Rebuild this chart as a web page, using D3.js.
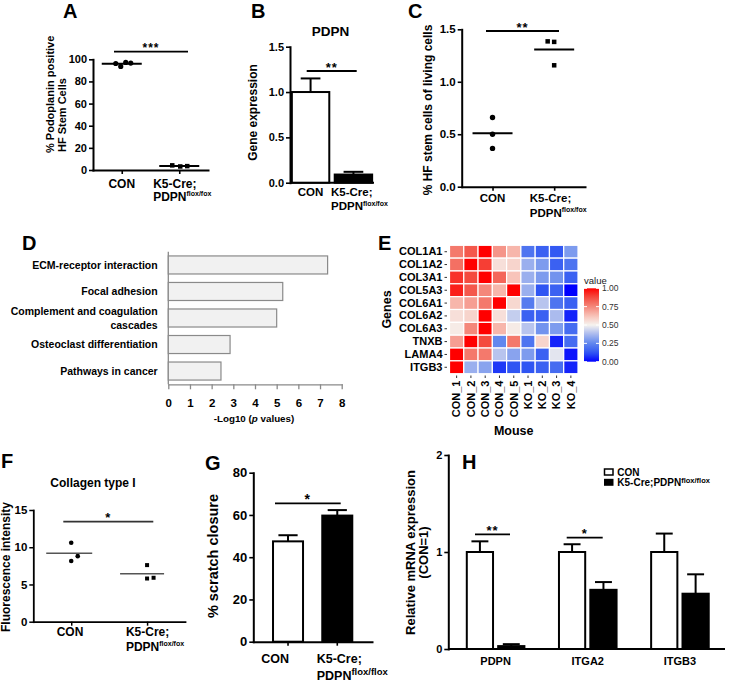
<!DOCTYPE html>
<html><head><meta charset="utf-8">
<script src="https://cdn.jsdelivr.net/npm/d3@7"></script>
<style>
body{margin:0;background:#fff}
svg{display:block}
text{font-family:"Liberation Sans",Arial,sans-serif;font-weight:bold;fill:#000}
</style>
</head><body>
<svg id="fig" width="729" height="683"></svg>
<script>
// ---------------- DATA ----------------
const groups = ["CON", "KO"];
// A
const aCon = [96.2, 93.6, 97.2, 96.6];
const aKo = [4.2, 3.2, 3.5];
const aTicks = [0, 20, 40, 60, 80, 100];
// B
const bMeans = [1.0, 0.09];
const bErrs = [0.15, 0.03];
const bTicks = [0, 0.5, 1.0, 1.5];
// C
const cCon = [0.66, 0.50, 0.365];
const cKo = [1.385, 1.38, 1.157];
const cTicks = [0, 0.5, 1.0, 1.5];
// D
const dTerms = ["ECM-receptor interaction", "Focal adhesion", "Complement and coagulation|cascades", "Osteoclast differentiation", "Pathways in cancer"];
const dValues = [7.35, 5.28, 5.0, 2.85, 2.43];
const dTicks = [0, 1, 2, 3, 4, 5, 6, 7, 8];
// E
const eGenes = ["COL1A1", "COL1A2", "COL3A1", "COL5A3", "COL6A1", "COL6A2", "COL6A3", "TNXB", "LAMA4", "ITGB3"];
const eMice = ["CON_1", "CON_2", "CON_3", "CON_4", "CON_5", "KO_1", "KO_2", "KO_3", "KO_4"];
const eValues = [
  [0.78, 0.85, 1.00, 0.72, 0.65, 0.20, 0.15, 0.13, 0.30],
  [0.80, 1.00, 0.90, 0.55, 0.58, 0.35, 0.30, 0.15, 0.20],
  [0.92, 0.88, 1.00, 0.82, 0.62, 0.35, 0.30, 0.28, 0.15],
  [0.95, 0.85, 0.75, 0.65, 1.00, 0.35, 0.12, 0.15, 0.00],
  [0.65, 0.70, 0.78, 1.00, 0.57, 0.22, 0.40, 0.20, 0.15],
  [0.55, 0.58, 1.00, 0.55, 0.42, 0.15, 0.15, 0.38, 0.05],
  [0.52, 0.75, 1.00, 0.65, 0.52, 0.40, 0.28, 0.30, 0.18],
  [0.70, 1.00, 0.88, 0.25, 0.78, 0.20, 0.58, 0.05, 0.18],
  [1.00, 0.78, 0.78, 0.40, 0.32, 0.30, 0.15, 0.47, 0.03],
  [1.00, 0.35, 0.32, 0.08, 0.12, 0.12, 0.15, 0.18, 0.05]
];
const eLegendTicks = [0, 0.25, 0.5, 0.75, 1];
const ePaletteStops = [0, 0.12, 0.25, 0.38, 0.5, 0.62, 0.75, 0.88, 1];
const ePaletteColors = ["#0000ff", "#2f55f3", "#6187ee", "#abbbee", "#f6f3ef", "#f8c4ba", "#f4877a", "#f44a3e", "#ff0000"];
// F
const fCon = [10.6, 8.15, 8.8];
const fKo = [7.6, 5.8, 5.9];
const fTicks = [0, 5, 10, 15];
// G
const gMeans = [47.5, 59.7];
const gErrs = [2.9, 2.6];
const gTicks = [0, 20, 40, 60, 80];
// H
const hGenes = ["PDPN", "ITGA2", "ITGB3"];
const hCon = [1.0, 1.0, 1.0];
const hConErr = [0.11, 0.08, 0.19];
const hKo = [0.03, 0.61, 0.57];
const hKoErr = [0.02, 0.08, 0.20];
const hTicks = [0, 1, 2];

// ---------------- HELPERS ----------------
const svg = d3.select("#fig");
svg.append("rect").attr("width", 729).attr("height", 683).attr("fill", "#fff");

function panelLetter(x, y, t) {
  svg.append("text").attr("x", x).attr("y", y).style("font-size", "20px").text(t);
}
function styleAxis(g, fs, dw, tw, col) {
  g.attr("font-size", null).attr("font-family", null);
  g.selectAll("text").style("font-size", fs + "px").style("fill", "#000");
  g.select(".domain").attr("stroke", col || "#000").attr("stroke-width", dw).attr("stroke-linecap", "square");
  g.selectAll(".tick line").attr("stroke", col || "#000").attr("stroke-width", tw);
}
function koLabel(g, cx, y, fs, sup, supFs, lineH) {
  const t1 = g.append("text").attr("y", y).style("font-size", fs + "px").text("K5-Cre;");
  const t2 = g.append("text").attr("y", y + lineH).style("font-size", fs + "px");
  t2.append("tspan").text("PDPN");
  t2.append("tspan").attr("dy", -fs * 0.38).style("font-size", supFs + "px").text(sup);
  const w = Math.max(t1.node().getComputedTextLength(), t2.node().getComputedTextLength());
  t1.attr("x", cx - w / 2); t2.attr("x", cx - w / 2);
}
function vLabel(g, x, y, fs, txt, anchor) {
  g.append("text").attr("transform", `translate(${x},${y}) rotate(-90)`)
    .attr("text-anchor", anchor || "middle").style("font-size", fs + "px").text(txt);
}
function sig(g, x1, x2, y, stars, fs, col) {
  g.append("line").attr("x1", x1).attr("x2", x2).attr("y1", y).attr("y2", y)
    .attr("stroke", col || "#000").attr("stroke-width", 1.8);
  g.append("text").attr("x", (x1 + x2) / 2).attr("y", y + 0.5).attr("text-anchor", "middle")
    .style("font-size", fs + "px").style("letter-spacing", "1px").text(stars);
}
function errUp(g, cx, yVal, yTop, capW, w) {
  g.append("line").attr("x1", cx).attr("x2", cx).attr("y1", yVal).attr("y2", yTop)
    .attr("stroke", "#000").attr("stroke-width", w || 2);
  g.append("line").attr("x1", cx - capW / 2).attr("x2", cx + capW / 2).attr("y1", yTop).attr("y2", yTop)
    .attr("stroke", "#000").attr("stroke-width", w || 2);
}
function dots(g, xs, ys, data, cx, jit, shape, size) {
  data.forEach((v, i) => {
    const px = cx + jit[i];
    if (shape === "circle") g.append("circle").attr("cx", px).attr("cy", ys(v)).attr("r", size).attr("fill", "#000");
    else g.append("rect").attr("x", px - size / 2).attr("y", ys(v) - size / 2).attr("width", size).attr("height", size).attr("fill", "#000");
  });
}
function meanLine(g, cx, half, y, w, col) {
  g.append("line").attr("x1", cx - half).attr("x2", cx + half).attr("y1", y).attr("y2", y)
    .attr("stroke", col || "#000").attr("stroke-width", w);
}

// ---------------- PANEL A ----------------
{
  const g = svg.append("g");
  panelLetter(63, 18, "A");
  const y = d3.scaleLinear().domain([0, 100]).range([170, 59.3]);
  const x = d3.scalePoint().domain(groups).range([93, 208]).padding(0.5);
  const ya = g.append("g").attr("transform", "translate(93,0)")
    .call(d3.axisLeft(y).tickValues(aTicks).tickSize(4).tickPadding(2).tickSizeOuter(0));
  styleAxis(ya, 11, 2, 1.6);
  const xa = g.append("g").attr("transform", "translate(0,170)")
    .call(d3.axisBottom(x).tickSize(4).tickFormat("").tickSizeOuter(0));
  styleAxis(xa, 11, 2, 1.6);
  dots(g, x, y, aCon, x("CON"), [-6, -1, 4, 9], "circle", 2.6);
  dots(g, x, y, aKo, x("KO"), [-7, 1, 8], "rect", 4.5);
  meanLine(g, x("CON"), 20, y(d3.mean(aCon)), 2);
  meanLine(g, x("KO"), 20, y(d3.mean(aKo)), 2);
  sig(g, 114, 188, 51.7, "***", 12);
  vLabel(g, 54, 153, 11, "% Podoplanin positive", "start");
  vLabel(g, 66, 152, 11, "HF Stem Cells", "start");
  g.append("text").attr("x", x("CON")).attr("y", 188).attr("text-anchor", "middle").style("font-size", "12px").text("CON");
  koLabel(g, x("KO") + 3, 188, 12, "flox/fox", 7, 13);
}

// ---------------- PANEL B ----------------
{
  const g = svg.append("g");
  panelLetter(251, 18, "B");
  g.append("text").attr("x", 330.5).attr("y", 35.7).attr("text-anchor", "middle").style("font-size", "13.5px").text("PDPN");
  const y = d3.scaleLinear().domain([0, 1.5]).range([182.7, 46.7]);
  const x = d3.scaleBand().domain(groups).range([290, 374]).paddingInner(0.08).paddingOuter(0.02);
  const ya = g.append("g").attr("transform", "translate(290,0)")
    .call(d3.axisLeft(y).tickValues(bTicks).tickFormat(d3.format(".1f")).tickSize(4).tickPadding(2).tickSizeOuter(0));
  styleAxis(ya, 11, 2, 1.6);
  g.append("line").attr("x1", 290).attr("x2", 374).attr("y1", 182.7).attr("y2", 182.7).attr("stroke", "#000").attr("stroke-width", 2);
  groups.forEach((k, i) => {
    const bx = x(k), bw = x.bandwidth();
    errUp(g, bx + bw / 2, y(bMeans[i]), y(bMeans[i] + bErrs[i]), bw * 0.5, 2);
    g.append("rect").attr("x", bx + 1).attr("y", y(bMeans[i])).attr("width", bw - 2).attr("height", y(0) - y(bMeans[i]))
      .attr("fill", i === 0 ? "#fff" : "#000").attr("stroke", "#000").attr("stroke-width", 2);
  });
  sig(g, 306.7, 356.7, 71, "**", 13);
  vLabel(g, 257, 112.5, 12, "Gene expression");
  g.append("text").attr("x", x("CON") + x.bandwidth() / 2).attr("y", 196).attr("text-anchor", "middle").style("font-size", "11.5px").text("CON");
  koLabel(g, x("KO") + x.bandwidth() / 2 + 6, 196, 11.5, "flox/fox", 7, 14);
}

// ---------------- PANEL C ----------------
{
  const g = svg.append("g");
  panelLetter(408, 18, "C");
  const y = d3.scaleLinear().domain([0, 1.5]).range([186.7, 29.3]);
  const x = d3.scalePoint().domain(groups).range([461.7, 585]).padding(0.5);
  const ya = g.append("g").attr("transform", "translate(461.7,0)")
    .call(d3.axisLeft(y).tickValues(cTicks).tickFormat(d3.format(".1f")).tickSize(4).tickPadding(2).tickSizeOuter(0));
  styleAxis(ya, 11.5, 2, 1.6);
  const xa = g.append("g").attr("transform", "translate(0,186.7)")
    .call(d3.axisBottom(x).tickSize(4).tickFormat("").tickSizeOuter(0));
  styleAxis(xa, 11, 2, 1.6);
  dots(g, x, y, cCon, x("CON"), [0, 0, 0], "circle", 2.7);
  dots(g, x, y, cKo, x("KO"), [-6.5, 0, 0], "rect", 4.5);
  meanLine(g, x("CON"), 20, y(d3.mean(cCon)), 2);
  meanLine(g, x("KO"), 20, y(d3.mean(cKo)), 2);
  sig(g, 486, 559, 31, "**", 13);
  vLabel(g, 432, 110, 12, "% HF stem cells of living cells");
  g.append("text").attr("x", x("CON")).attr("y", 201.5).attr("text-anchor", "middle").style("font-size", "11.5px").text("CON");
  koLabel(g, x("KO") + 4, 201.5, 11.5, "flox/fox", 7, 15);
}

// ---------------- PANEL D ----------------
{
  const g = svg.append("g");
  panelLetter(22, 250, "D");
  const x = d3.scaleLinear().domain([0, 8]).range([168.3, 341.7]);
  const y = d3.scaleBand().domain(dTerms).range([251.7, 384.3]).paddingInner(0.32).paddingOuter(0.16);
  const xa = g.append("g").attr("transform", "translate(0,384.3)")
    .call(d3.axisBottom(x).tickValues(dTicks).tickSize(5).tickPadding(10).tickSizeOuter(0));
  styleAxis(xa, 11.5, 1.3, 1.3, "#8a8a8a");
  g.append("line").attr("x1", 168.3).attr("x2", 168.3).attr("y1", 251.7).attr("y2", 384.3).attr("stroke", "#8a8a8a").attr("stroke-width", 1.3);
  dTerms.forEach((t, i) => {
    g.append("rect").attr("x", x(0)).attr("y", y(t)).attr("width", x(dValues[i]) - x(0)).attr("height", y.bandwidth())
      .attr("fill", "#f1f1f1").attr("stroke", "#8a8a8a").attr("stroke-width", 1.2);
    const lines = t.split("|");
    const cy = y(t) + y.bandwidth() / 2;
    lines.forEach((ln, j) => {
      g.append("text").attr("x", 157.7).attr("y", cy + (j - (lines.length - 1) / 2) * 13.5 + 3.8)
        .attr("text-anchor", "end").style("font-size", "10.5px").text(ln);
    });
  });
  const xl = g.append("text").attr("x", 254).attr("y", 421.5).attr("text-anchor", "middle").style("font-size", "9.8px");
  xl.append("tspan").text("-Log10 (");
  xl.append("tspan").style("font-style", "italic").text("p");
  xl.append("tspan").text(" values)");
}

// ---------------- PANEL E ----------------
{
  const g = svg.append("g");
  panelLetter(378, 250, "E");
  const x = d3.scaleBand().domain(eMice).range([449.5, 578]);
  const y = d3.scaleBand().domain(eGenes).range([245.3, 373.7]);
  const color = d3.scaleLinear().domain(ePaletteStops).range(ePaletteColors).interpolate(d3.interpolateRgb);
  eGenes.forEach((gn, r) => {
    eMice.forEach((m, c) => {
      g.append("rect").attr("x", x(m)).attr("y", y(gn)).attr("width", x.bandwidth()).attr("height", y.bandwidth())
        .attr("fill", color(eValues[r][c])).attr("stroke", "#fff").attr("stroke-width", 1.2);
    });
  });
  const ya = g.append("g").attr("transform", "translate(447,0)")
    .call(d3.axisLeft(y).tickSize(2.5).tickPadding(2));
  ya.select(".domain").remove();
  ya.attr("font-size", null).attr("font-family", null);
  ya.selectAll("text").style("font-size", "11px");
  ya.selectAll(".tick line").attr("stroke", "#333").attr("stroke-width", 1);
  const xa = g.append("g").attr("transform", "translate(0,375.5)")
    .call(d3.axisBottom(x).tickSize(2.5).tickPadding(2));
  xa.select(".domain").remove();
  xa.attr("font-size", null).attr("font-family", null);
  xa.selectAll(".tick line").attr("stroke", "#333").attr("stroke-width", 1);
  xa.selectAll("text").style("font-size", "11px").attr("text-anchor", "end")
    .attr("transform", "rotate(-90)").attr("x", -5).attr("y", 0).attr("dy", "0.35em");
  vLabel(g, 391, 309.5, 12.5, "Genes");
  g.append("text").attr("x", 513.7).attr("y", 435).attr("text-anchor", "middle").style("font-size", "12.5px").text("Mouse");
  // legend
  const lg = g.append("g");
  lg.append("text").attr("x", 584).attr("y", 284).style("font-size", "9.5px").style("font-weight", "normal").style("fill", "#222").text("value");
  const ly = d3.scaleLinear().domain([0, 1]).range([361.7, 288.3]);
  const defs = svg.append("defs");
  const grad = defs.append("linearGradient").attr("id", "eg").attr("x1", 0).attr("x2", 0).attr("y1", 1).attr("y2", 0);
  d3.range(0, 1.0001, 0.05).forEach(v => grad.append("stop").attr("offset", v).attr("stop-color", color(v)));
  lg.append("rect").attr("x", 584).attr("y", ly(1)).attr("width", 15).attr("height", ly(0) - ly(1)).attr("fill", "url(#eg)");
  eLegendTicks.forEach(v => {
    lg.append("line").attr("x1", 584).attr("x2", 587).attr("y1", ly(v)).attr("y2", ly(v)).attr("stroke", "#fff").attr("stroke-width", 1);
    lg.append("line").attr("x1", 596).attr("x2", 599).attr("y1", ly(v)).attr("y2", ly(v)).attr("stroke", "#fff").attr("stroke-width", 1);
    lg.append("text").attr("x", 602).attr("y", ly(v) + 3).style("font-size", "8.5px").style("font-weight", "normal").style("fill", "#333").text(d3.format(".2f")(v));
  });
}

// ---------------- PANEL F ----------------
{
  const g = svg.append("g");
  panelLetter(1, 468, "F");
  g.append("text").attr("x", 93).attr("y", 486.5).attr("text-anchor", "middle").style("font-size", "12px").text("Collagen type I");
  const y = d3.scaleLinear().domain([0, 15]).range([621.7, 510]);
  const x = d3.scalePoint().domain(groups).range([33.3, 185]).padding(0.5);
  const ya = g.append("g").attr("transform", "translate(33.3,0)")
    .call(d3.axisLeft(y).tickValues(fTicks).tickSize(4).tickPadding(2).tickSizeOuter(0));
  styleAxis(ya, 11.5, 1.8, 1.5);
  const xa = g.append("g").attr("transform", "translate(0,621.7)")
    .call(d3.axisBottom(x).tickSize(4).tickFormat("").tickSizeOuter(0));
  styleAxis(xa, 11, 1.8, 1.5);
  dots(g, x, y, fCon, x("CON"), [0, 0, 6.5], "circle", 2.3);
  dots(g, x, y, fKo, x("KO"), [0, 0, 6.5], "rect", 4);
  meanLine(g, x("CON") - 2, 23, y(d3.mean(fCon)), 1.6, "#555");
  meanLine(g, x("KO") - 5, 22, y(d3.mean(fKo)), 1.6, "#555");
  sig(g, 63.3, 153.3, 521.7, "*", 13, "#333");
  vLabel(g, 10, 567, 12, "Fluorescence intensity");
  g.append("text").attr("x", 70).attr("y", 635.5).attr("text-anchor", "middle").style("font-size", "12px").text("CON");
  koLabel(g, 155, 635.5, 12, "flox/fox", 7, 15);
}

// ---------------- PANEL G ----------------
{
  const g = svg.append("g");
  panelLetter(205, 470, "G");
  const y = d3.scaleLinear().domain([0, 80]).range([641.7, 472.7]);
  const x = d3.scaleBand().domain(groups).range([253.3, 372]).paddingInner(0.35).paddingOuter(0.38);
  const ya = g.append("g").attr("transform", "translate(253.3,0)")
    .call(d3.axisLeft(y).tickValues(gTicks).tickSize(4).tickPadding(2).tickSizeOuter(0));
  styleAxis(ya, 13, 2, 1.6);
  const xa = g.append("g").attr("transform", "translate(0,641.7)")
    .call(d3.axisBottom(x).tickSize(4).tickFormat("").tickSizeOuter(0));
  styleAxis(xa, 11, 2, 1.6);
  groups.forEach((k, i) => {
    const bx = x(k), bw = x.bandwidth();
    errUp(g, bx + bw / 2, y(gMeans[i]), y(gMeans[i] + gErrs[i]), bw * 0.6, 2);
    g.append("rect").attr("x", bx + 1).attr("y", y(gMeans[i])).attr("width", bw - 2).attr("height", y(0) - y(gMeans[i]))
      .attr("fill", i === 0 ? "#fff" : "#000").attr("stroke", "#000").attr("stroke-width", 2);
  });
  sig(g, 275, 340.7, 503.3, "*", 14);
  vLabel(g, 218, 556, 14.5, "% scratch closure");
  g.append("text").attr("x", x("CON") + x.bandwidth() / 2 - 13).attr("y", 662.7).attr("text-anchor", "middle").style("font-size", "12.5px").text("CON");
  koLabel(g, x("KO") + x.bandwidth() / 2 + 15, 662.7, 12.5, "flox/flox", 9.5, 17.5);
}

// ---------------- PANEL H ----------------
{
  const g = svg.append("g");
  panelLetter(462, 469, "H");
  const y = d3.scaleLinear().domain([0, 2]).range([649, 455]);
  const x0 = d3.scaleBand().domain(hGenes).range([449.5, 726]);
  const x1 = d3.scaleBand().domain(groups).range([16.3, 75.9]).paddingInner(0.1);
  const ya = g.append("g").attr("transform", "translate(448.3,0)")
    .call(d3.axisLeft(y).tickValues(hTicks).tickFormat(d3.format("d")).tickSize(4).tickPadding(2).tickSizeOuter(0));
  styleAxis(ya, 11, 2, 1.6);
  g.append("line").attr("x1", 448.3).attr("x2", 725).attr("y1", 649).attr("y2", 649).attr("stroke", "#000").attr("stroke-width", 2);
  hGenes.forEach((gn, i) => {
    [[hCon, hConErr], [hKo, hKoErr]].forEach(([vals, errs], j) => {
      const bx = x0(gn) + x1(groups[j]), bw = x1.bandwidth();
      errUp(g, bx + bw / 2, y(vals[i]), y(vals[i] + errs[i]), bw * 0.6, 2);
      g.append("rect").attr("x", bx + 1).attr("y", y(vals[i])).attr("width", bw - 2).attr("height", y(0) - y(vals[i]))
        .attr("fill", j === 0 ? "#fff" : "#000").attr("stroke", "#000").attr("stroke-width", 2);
    });
    g.append("text").attr("x", x0(gn) + x0.bandwidth() / 2).attr("y", 665).attr("text-anchor", "middle").style("font-size", "11px").text(gn);
  });
  sig(g, 475, 510, 534.3, "**", 13);
  sig(g, 566.7, 602.7, 537.7, "*", 13);
  g.append("text").attr("transform", "translate(414.5,552.5) rotate(-90)").attr("text-anchor", "middle").style("font-size", "13px").text("Relative mRNA expression");
  g.append("text").attr("transform", "translate(427.5,552.5) rotate(-90)").attr("text-anchor", "middle").style("font-size", "13px").text("(CON=1)");
  // legend
  g.append("rect").attr("x", 604.5).attr("y", 469).attr("width", 8.5).attr("height", 6).attr("fill", "#fff").attr("stroke", "#000").attr("stroke-width", 1.5);
  g.append("rect").attr("x", 604).attr("y", 478.8).attr("width", 9.5).attr("height", 7).attr("fill", "#000");
  g.append("text").attr("x", 617.3).attr("y", 476).style("font-size", "10px").text("CON");
  const lt = g.append("text").attr("x", 617.3).attr("y", 486).style("font-size", "10px");
  lt.append("tspan").text("K5-Cre;PDPN");
  lt.append("tspan").attr("dy", -3.5).style("font-size", "7.5px").text("flox/flox");
}
</script>
</body></html>
